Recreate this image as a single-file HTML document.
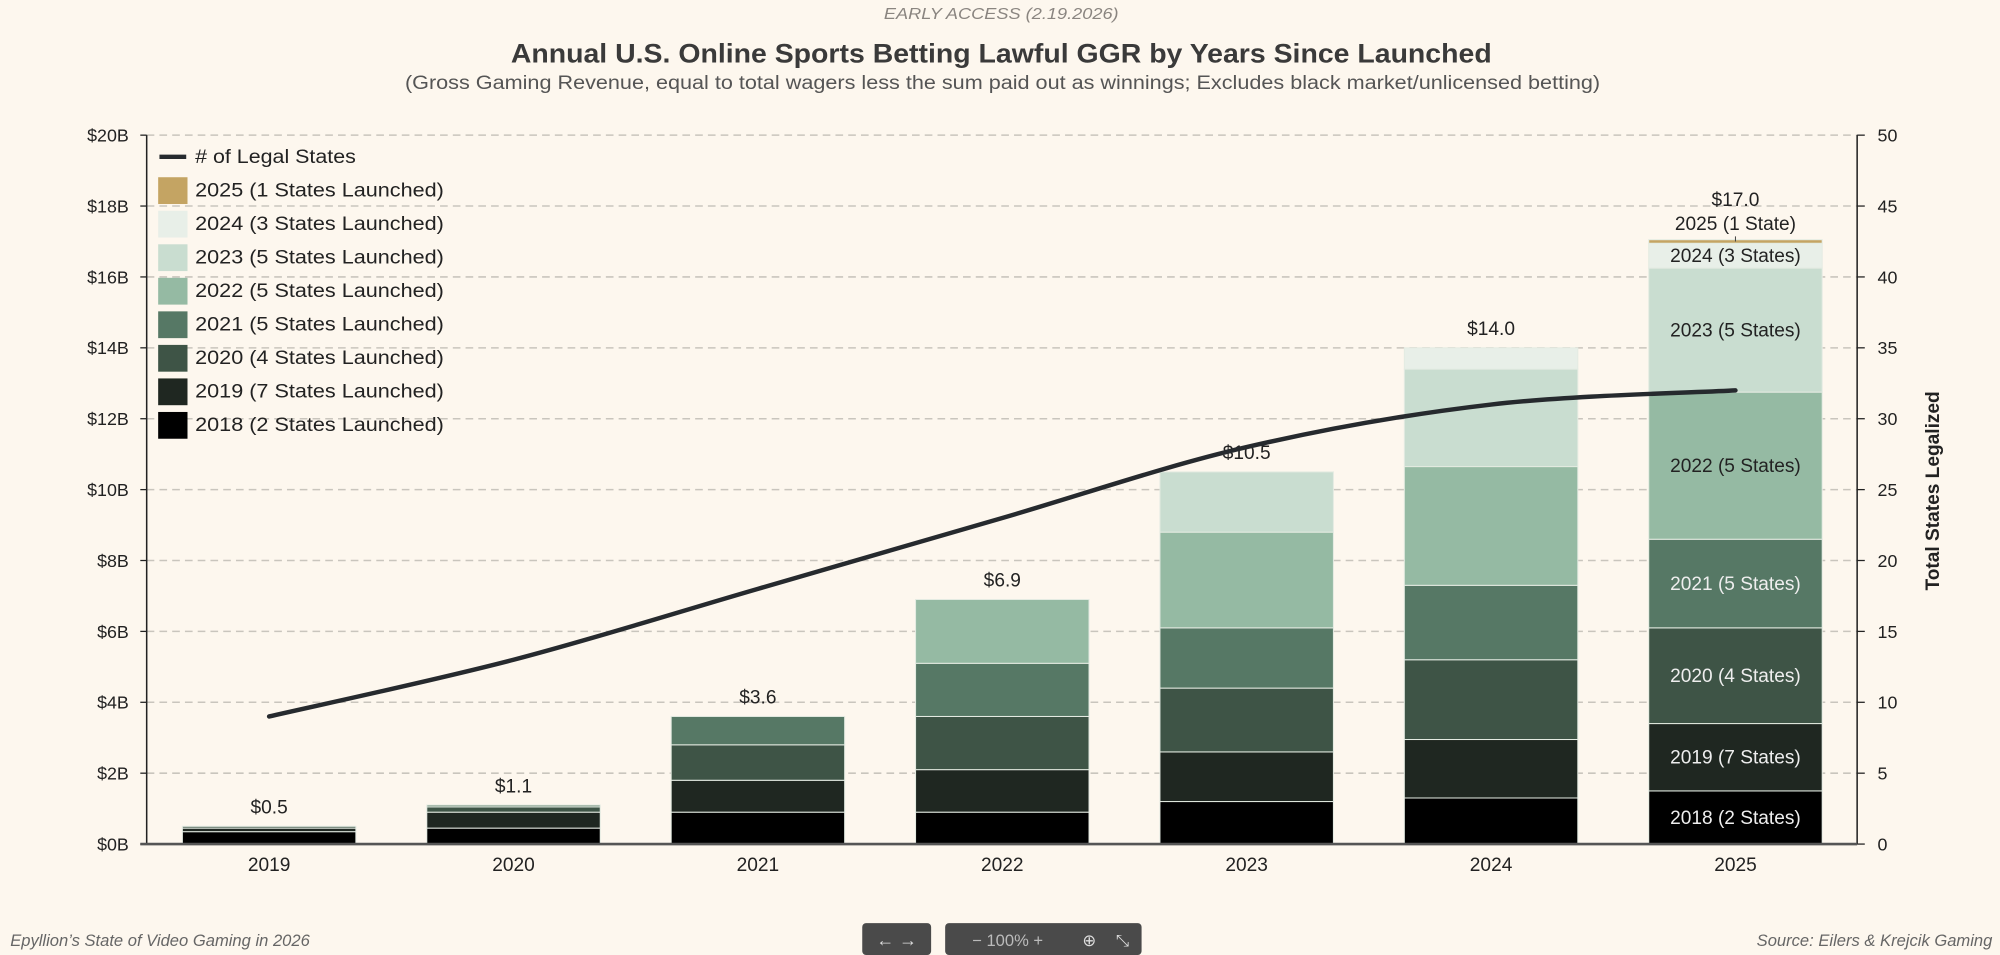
<!DOCTYPE html>
<html><head><meta charset="utf-8">
<style>
html,body{margin:0;padding:0;background:#fdf7ee;}
svg{display:block;}
text{font-family:"Liberation Sans",sans-serif;}
</style></head>
<body>
<svg id="chart" width="2000" height="955" viewBox="0 0 1568 749" preserveAspectRatio="none" xmlns="http://www.w3.org/2000/svg">
<rect x="0" y="0" width="1568" height="749" fill="#fdf7ee"/>
<text x="785" y="15" text-anchor="middle" font-size="12" font-style="italic" fill="#8a8580" textLength="184" lengthAdjust="spacingAndGlyphs">EARLY ACCESS (2.19.2026)</text>
<text x="785" y="49" text-anchor="middle" font-size="21" font-weight="bold" fill="#3a3a3a" textLength="769" lengthAdjust="spacingAndGlyphs">Annual U.S. Online Sports Betting Lawful GGR by Years Since Launched</text>
<text x="786" y="70" text-anchor="middle" font-size="15" fill="#555" textLength="937" lengthAdjust="spacingAndGlyphs">(Gross Gaming Revenue, equal to total wagers less the sum paid out as winnings; Excludes black market/unlicensed betting)</text>
<g id="grid"></g>
<g id="bars"></g>
<g id="line"></g>
<g id="axes"></g>
<g id="legend"></g>
<text x="8" y="742" font-size="13" font-style="italic" fill="#666">Epyllion’s State of Video Gaming in 2026</text>
<text x="1562" y="742" text-anchor="end" font-size="13" font-style="italic" fill="#666">Source: Eilers &amp; Krejcik Gaming</text>
<g>
<rect x="676" y="724" width="54" height="25" rx="3" fill="#4a4a4a"/>
<text x="703" y="742" text-anchor="middle" font-size="14" fill="#ddd">← →</text>
<rect x="741" y="724" width="154" height="25" rx="3" fill="#4a4a4a"/>
<text x="790" y="742" text-anchor="middle" font-size="13" fill="#bbb">−  100%  +</text>
<text x="854" y="742" text-anchor="middle" font-size="13" fill="#ddd">⊕</text>
<text x="880" y="742" text-anchor="middle" font-size="13" fill="#ddd">⤡</text>
</g>
</svg>
<script>
const years = ["2019","2020","2021","2022","2023","2024","2025"];
const cohorts = ["2018","2019","2020","2021","2022","2023","2024","2025"];
const cohortStates = [2,7,4,5,5,5,3,1];
const cohortColors = ["#000000","#1f2721","#3e5446","#567865","#95baa3","#c9ddd0","#e8efe8","#c4a463"];
// values in $B per year, per cohort
const seg2018 = [0.35,0.45,0.90,0.90,1.20,1.30,1.50];
const seg2019 = [0.10,0.45,0.90,1.20,1.40,1.65,1.90];
const seg2020 = [0.05,0.15,1.00,1.50,1.80,2.25,2.70];
const seg2021 = [0,0.05,0.80,1.50,1.70,2.10,2.50];
const seg2022 = [0,0,0,1.80,2.70,3.35,4.15];
const seg2023 = [0,0,0,0,1.70,2.75,3.50];
const seg2024 = [0,0,0,0,0,0.60,0.70];
const seg2025 = [0,0,0,0,0,0,0.10];
const totals = [0.5,1.1,3.6,6.9,10.5,14.0,17.0];
const legalStates = [9,13,18,23,28,31,32];
const yTicks = [0,2,4,6,8,10,12,14,16,18,20];
const y2Ticks = [0,5,10,15,20,25,30,35,40,45,50];

const NS="http://www.w3.org/2000/svg";
const L=115,R=1456,T=106,B=662,step=191.6,bw=136;
const xC=i=>211+i*step;
const yS=v=>B-(v/20)*(B-T);
const y2=v=>B-(v/50)*(B-T);
function mk(tag,attrs,parent,txt){const e=document.createElementNS(NS,tag);for(const k in attrs)e.setAttribute(k,attrs[k]);if(txt!==undefined)e.textContent=txt;parent.appendChild(e);return e;}
const grid=document.getElementById('grid'),bars=document.getElementById('bars'),lineG=document.getElementById('line'),axes=document.getElementById('axes'),leg=document.getElementById('legend');

yTicks.forEach(v=>{
  if(v>0){const g=mk('line',{x1:L,x2:R,y1:yS(v),y2:yS(v),stroke:'#c9c5bd','stroke-width':1.2,'stroke-dasharray':'6 4'},grid);
  
  }
  const t=mk('text',{x:101,y:yS(v)+5,'text-anchor':'end','font-size':14,fill:'#222'},axes,'$'+v+'B');
  
  
  mk('line',{x1:L-5,x2:L,y1:yS(v),y2:yS(v),stroke:'#222','stroke-width':1},axes);
});
y2Ticks.forEach(v=>{
  const t=mk('text',{x:1472,y:y2(v)+5,'font-size':14,fill:'#222'},axes,String(v));
  
  
  mk('line',{x1:R,x2:R+6,y1:y2(v),y2:y2(v),stroke:'#222','stroke-width':1},axes);
});
mk('line',{x1:L,x2:L,y1:T,y2:B,stroke:'#222','stroke-width':1.2},axes);
mk('line',{x1:R,x2:R,y1:T,y2:B,stroke:'#222','stroke-width':1.2},axes);
const xa=mk('line',{x1:110,x2:R,y1:B,y2:B,stroke:'#555','stroke-width':2},axes);


const yt=mk('text',{x:0,y:0,'font-size':15,'font-weight':'bold',fill:'#222','text-anchor':'middle',transform:'translate(1520,385) rotate(-90)'},axes,'Total States Legalized');



const segs=[seg2018,seg2019,seg2020,seg2021,seg2022,seg2023,seg2024,seg2025];
years.forEach((yr,i)=>{
  let cum=0;
  segs.forEach((arr,c)=>{
    const v=arr[i]; if(v<=0) return;
    const y0=yS(cum),y1=yS(cum+v);
    const r=mk('rect',{x:xC(i)-bw/2,y:y1,width:bw,height:y0-y1,fill:cohortColors[c],stroke:'#e4ebe2','stroke-width':0.8},bars);
    
    
    if(i===years.length-1 && c<7){
      const lt=mk('text',{x:xC(i),y:(y0+y1)/2+5,'text-anchor':'middle','font-size':15,fill:c<4?'#eee':'#222'},bars,cohorts[c]+' ('+cohortStates[c]+' States)');
      
      
    }
    cum+=v;
  });
  const last=i===years.length-1;
  const tl=mk('text',{x:xC(i),y:yS(totals[i])-(last?28:10),'text-anchor':'middle','font-size':15,fill:'#222'},bars,'$'+totals[i].toFixed(1));
  
  
  const xl=mk('text',{x:xC(i),y:B+21,'text-anchor':'middle','font-size':15,fill:'#222'},axes,yr);
  
  
});
const li=years.length-1;
const t25=mk('text',{x:xC(li),y:yS(totals[li])-9,'text-anchor':'middle','font-size':15,fill:'#222'},bars,'2025 (1 State)');


mk('line',{x1:xC(li),x2:xC(li),y1:yS(totals[li])-4,y2:yS(totals[li]),stroke:'#444','stroke-width':0.8},bars);

// smooth line
const pts=legalStates.map((v,i)=>[xC(i),y2(v)]);
let d='M'+pts[0][0]+','+pts[0][1];
for(let i=0;i<pts.length-1;i++){
  const p0=pts[Math.max(0,i-1)],p1=pts[i],p2=pts[i+1],p3=pts[Math.min(pts.length-1,i+2)];
  const c1=[p1[0]+(p2[0]-p0[0])/6,p1[1]+(p2[1]-p0[1])/6];
  const c2=[p2[0]-(p3[0]-p1[0])/6,p2[1]-(p3[1]-p1[1])/6];
  d+=' C'+c1+' '+c2+' '+p2;
}
const ln=mk('path',{d:d,fill:'none',stroke:'#262a2e','stroke-width':3.5,'stroke-linecap':'round'},lineG);



// legend
const l0=mk('line',{x1:125,x2:146,y1:123,y2:123,stroke:'#262a2e','stroke-width':3.5},leg);


const lt0=mk('text',{x:153,y:128,'font-size':15,fill:'#222',textLength:126,lengthAdjust:'spacingAndGlyphs'},leg,'# of Legal States');


for(let k=0;k<8;k++){
  const c=7-k, y=149+k*26.3;
  const s=mk('rect',{x:124,y:y-10,width:23,height:21,fill:cohortColors[c]},leg);
  
  
  const t=mk('text',{x:153,y:y+5,'font-size':15,fill:'#222',textLength:195,lengthAdjust:'spacingAndGlyphs'},leg,cohorts[c]+' ('+cohortStates[c]+' States Launched)');
  
  
}
</script>
</body></html>
